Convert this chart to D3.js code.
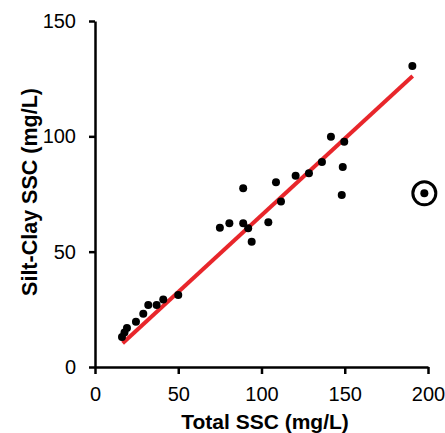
<!DOCTYPE html>
<html>
<head>
<meta charset="utf-8">
<script src="https://cdn.jsdelivr.net/npm/d3@7"></script>
<style>
  body { margin: 0; background: #fff; }
  text { font-family: Arial, "Liberation Sans", sans-serif; }
</style>
</head>
<body>
<div id="target"></div>
<script>
var WIDTH = 445;
var HEIGHT = 433;
var margin = { top: 21, right: 17, bottom: 66, left: 95 };

// total SSC (x) vs silt-clay SSC (y), mg/L
var totalSSC = [16.2, 17.7, 19.2, 24.6, 29, 32, 37, 41, 50,
  75, 80.7, 89, 89, 92, 94.1, 104.1, 108.7, 111.7, 120.5, 128.5,
  136.3, 141.7, 148.2, 148.8, 149.7, 190.6];
var siltClaySSC = [13.0, 15.0, 16.9, 19.6, 23.1, 26.9, 26.9, 29.3, 31.2,
  60.4, 62.3, 77.5, 62.3, 60.1, 54.3, 62.7, 80.1, 71.7, 82.9, 84,
  88.9, 99.8, 74.6, 86.7, 97.7, 130.5];

// excluded outlier (circled)
var outlier = [197.8, 75.3];

// fitted line
var fitSlope = 0.665;
var fitIntercept = -0.74;
var fitRange = [16.6, 190.8];

var xTicks = [0, 50, 100, 150, 200];
var yTicks = [0, 50, 100, 150];

var svg = d3.select("#target").append("svg")
  .attr("width", WIDTH).attr("height", HEIGHT);

var g = svg.append("g")
  .attr("transform", "translate(" + margin.left + "," + margin.top + ")");

var w = WIDTH - margin.left - margin.right;
var h = HEIGHT - margin.top - margin.bottom;

var x = d3.scaleLinear().domain([0, 200]).range([0, w]);
var y = d3.scaleLinear().domain([0, 150]).range([h, 0]);

var xAxis = g.append("g")
  .attr("transform", "translate(0," + h + ")")
  .call(d3.axisBottom(x).tickValues(xTicks).tickSize(7).tickSizeOuter(0).tickPadding(13));

var yAxis = g.append("g")
  .call(d3.axisLeft(y).tickValues(yTicks).tickSize(6).tickSizeOuter(0).tickPadding(13));

[xAxis, yAxis].forEach(function(a) {
  a.select(".domain").attr("stroke", "#000").attr("stroke-width", 2.5);
  a.selectAll(".tick line").attr("stroke", "#000").attr("stroke-width", 2.5);
  a.selectAll(".tick text")
    .attr("fill", "#000")
    .style("font-family", "Arial, 'Liberation Sans', sans-serif")
    .style("font-size", "20px");
});

// regression line
var lineFunction = d3.line()
  .x(function(d) { return x(d); })
  .y(function(d) { return y(fitSlope * d + fitIntercept); });

g.append("path")
  .attr("d", lineFunction(fitRange))
  .attr("stroke", "#e8262b")
  .attr("stroke-width", 4)
  .attr("fill", "none");

g.selectAll("circle.pt")
  .data(totalSSC)
  .enter()
  .append("circle")
  .attr("class", "pt")
  .attr("cx", function(d) { return x(d); })
  .attr("cy", function(d, i) { return y(siltClaySSC[i]); })
  .attr("r", 4)
  .attr("fill", "#000");

g.append("circle")
  .attr("cx", x(outlier[0]))
  .attr("cy", y(outlier[1]))
  .attr("r", 4)
  .attr("fill", "#000");

g.append("circle")
  .attr("cx", x(outlier[0]))
  .attr("cy", y(outlier[1]))
  .attr("r", 11.5)
  .attr("fill", "none")
  .attr("stroke", "#000")
  .attr("stroke-width", 3);

g.append("text")
  .attr("x", 265 - margin.left)
  .attr("y", h + 62)
  .attr("text-anchor", "middle")
  .style("font-size", "21px")
  .style("font-weight", "bold")
  .text("Total SSC (mg/L)");

g.append("text")
  .attr("transform", "translate(" + (37 - margin.left) + "," + (192 - margin.top) + ") rotate(-90)")
  .attr("text-anchor", "middle")
  .style("font-size", "21.5px")
  .style("font-weight", "bold")
  .text("Silt-Clay SSC (mg/L)");
</script>
</body>
</html>
